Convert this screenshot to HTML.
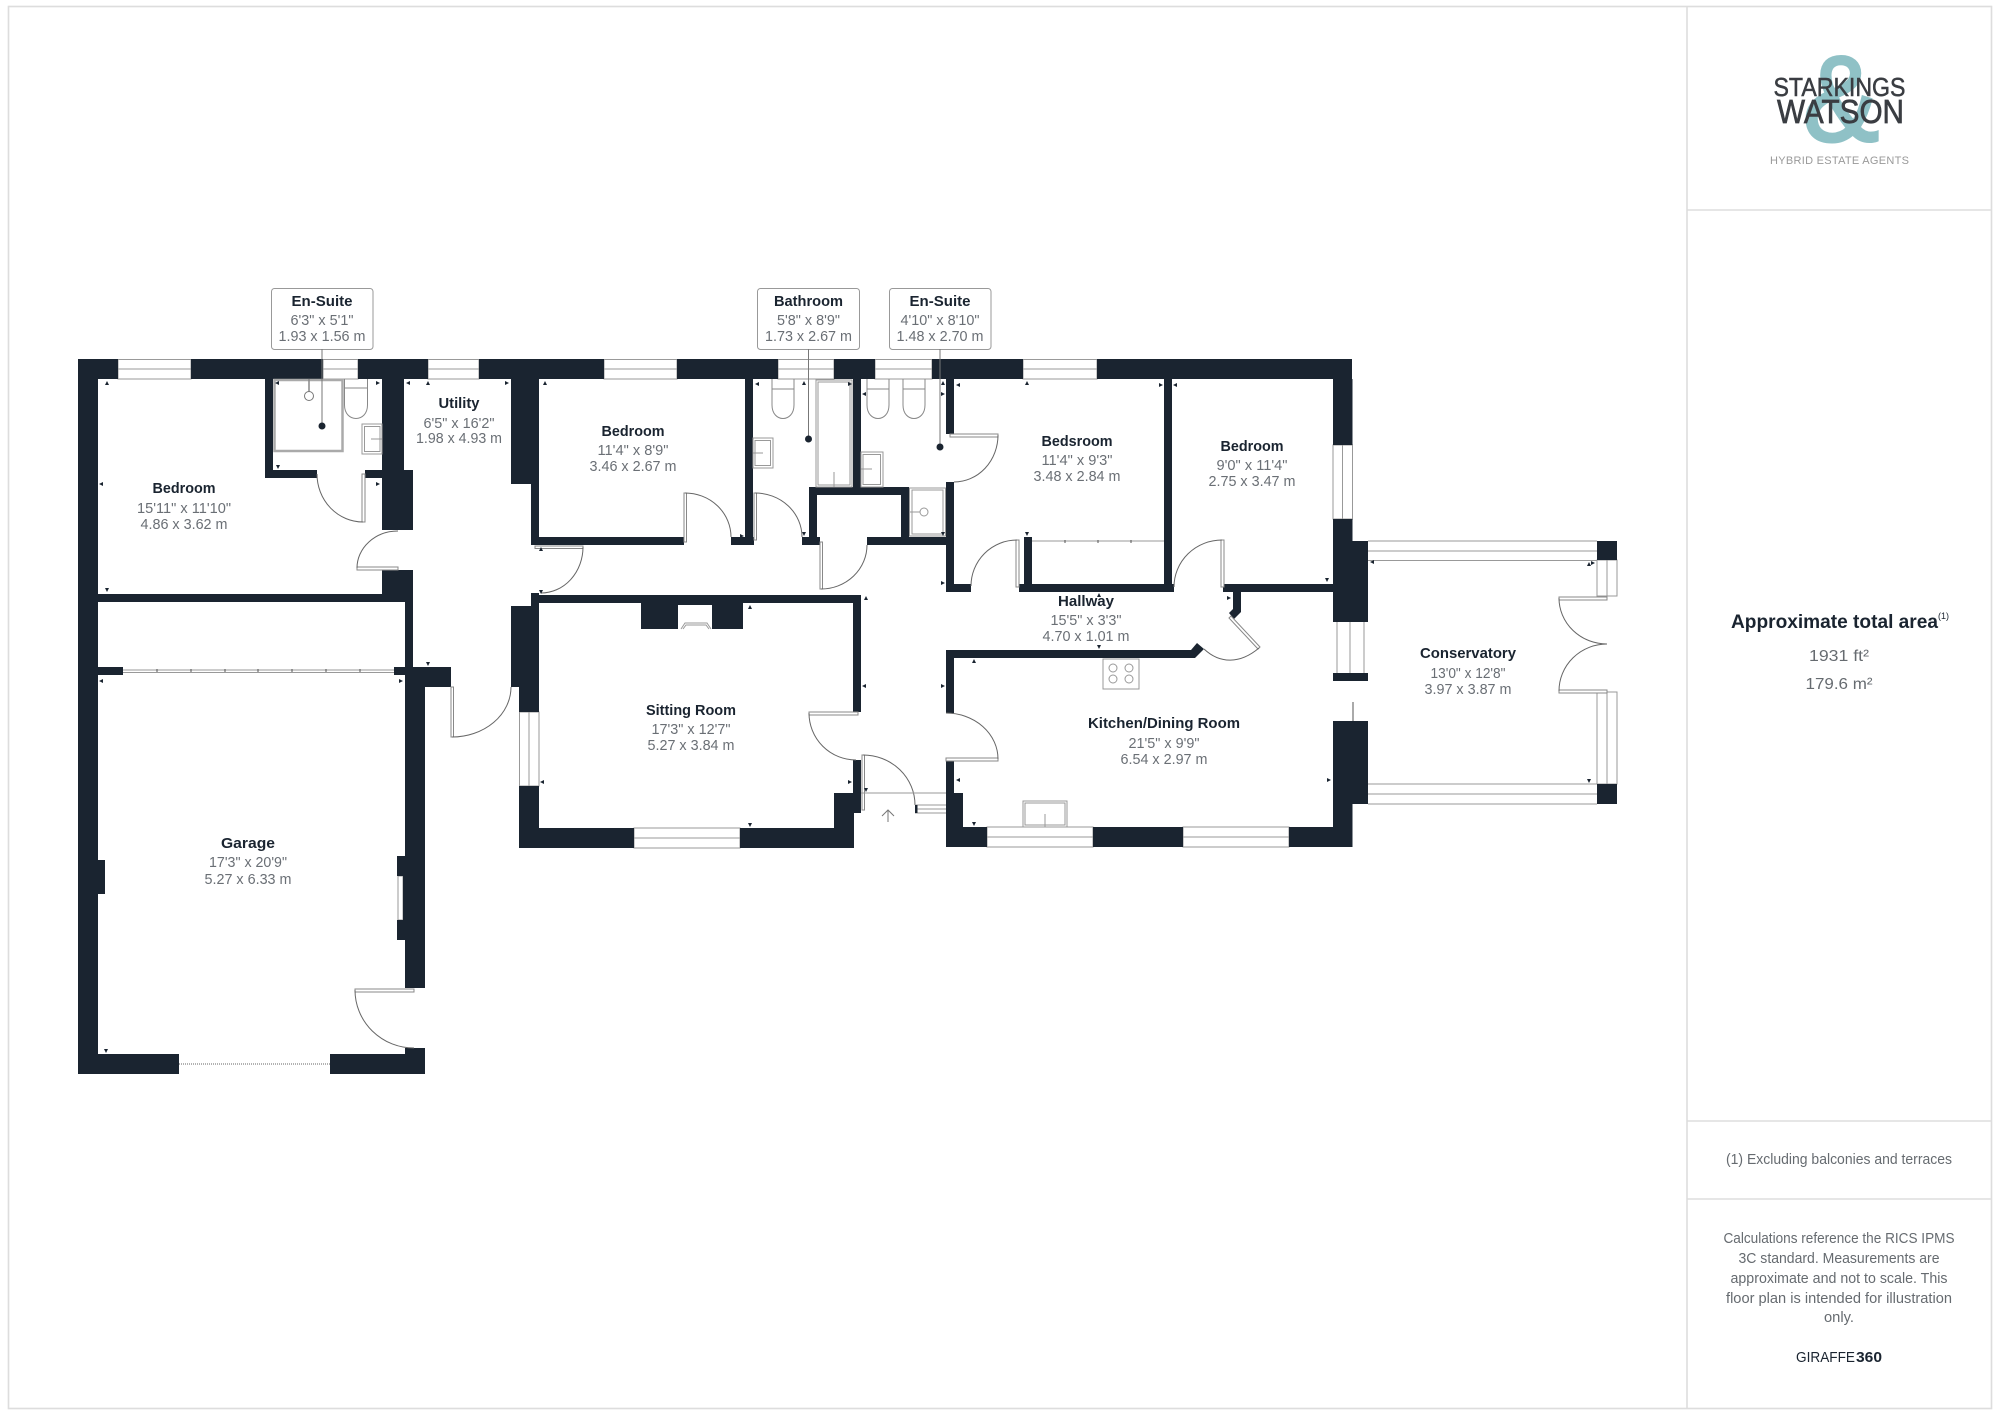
<!DOCTYPE html>
<html><head><meta charset="utf-8"><title>Floor plan</title>
<style>
html,body{margin:0;padding:0;background:#fff;width:2000px;height:1415px;overflow:hidden}
svg{display:block}
text{font-family:"Liberation Sans",sans-serif;text-anchor:middle}
.t{font-size:15px;font-weight:700;fill:#1a2430}
.d{font-size:14.5px;fill:#6a6f75}
.w{fill:#1a2430}
.win{fill:#fff;stroke:#999;stroke-width:1}
.ln{fill:none;stroke:#999;stroke-width:1}
.leaf{fill:#fff;stroke:#888;stroke-width:1}
.arc{fill:none;stroke:#666;stroke-width:1}
.fx{fill:#fff;stroke:#999;stroke-width:1.2}
.dbl{fill:none;stroke:#aaa;stroke-width:2.5}
.p{font-size:14.5px;fill:#666b70}
</style></head><body>
<svg width="2000" height="1415" viewBox="0 0 2000 1415" xmlns="http://www.w3.org/2000/svg">
<rect width="2000" height="1415" fill="#fff"/>
<!-- frame -->
<rect x="8.5" y="6.5" width="1983" height="1402" fill="none" stroke="#ddd" stroke-width="1.6"/>
<path d="M1687 6V1408M1687 210H1992M1687 1121H1992M1687 1199H1992" fill="none" stroke="#ddd" stroke-width="1.6"/>

<!-- windows -->
<g class="win">
<rect x="118" y="359.5" width="73" height="19.5"/><path d="M118 369H191"/>
<rect x="323" y="359.5" width="35" height="19.5"/><path d="M323 369H358"/>
<rect x="428" y="359.5" width="51" height="19.5"/><path d="M428 369H479"/>
<rect x="604" y="359.5" width="73" height="19.5"/><path d="M604 369H677"/>
<rect x="778" y="359.5" width="56" height="19.5"/><path d="M778 369H834"/>
<rect x="875" y="359.5" width="57" height="19.5"/><path d="M875 369H932"/>
<rect x="1023" y="359.5" width="74" height="19.5"/><path d="M1023 369H1097"/>
<rect x="1333" y="445" width="19.5" height="74"/><path d="M1342.5 445V519"/>
<path d="M1337 622V673M1350 622V673M1364 622V673"/>
<rect x="519.5" y="712" width="19.5" height="74"/><path d="M529 712V786"/>
<rect x="634" y="828" width="106" height="20"/><path d="M634 838H740"/>
<rect x="987" y="827" width="106" height="20"/><path d="M987 837H1093"/>
<rect x="1183" y="827" width="106" height="20"/><path d="M1183 837H1289"/>
<!-- conservatory -->
<path d="M1368 541H1597M1368 551H1597M1368 560.5H1597M1368 784H1597M1368 794H1597M1368 804H1597"/>
<rect x="1597" y="560" width="20" height="36"/><path d="M1607 560V596"/>
<rect x="1597" y="692" width="20" height="92"/><path d="M1607 692V784"/>
<rect x="398" y="876" width="5" height="44"/>
</g>
<path d="M1353 702V721" stroke="#aaa" stroke-width="2" fill="none"/>
<path d="M123 670H394M123 672.5H394M1032 541H1164" stroke="#999" stroke-width="1" fill="none"/>
<path d="M157 669v3M191 669v3M225 669v3M258 669v3M292 669v3M326 669v3M360 669v3M1065 540v3M1098 540v3M1131 540v3" stroke="#555" stroke-width="1"/>
<path d="M179 1064H330" stroke="#999" stroke-width="1.5" stroke-dasharray="1 1"/>

<!-- walls -->
<g class="w">
<rect x="78" y="359" width="40" height="20"/><rect x="191" y="359" width="132" height="20"/>
<rect x="358" y="359" width="70" height="20"/><rect x="479" y="359" width="125" height="20"/>
<rect x="677" y="359" width="101" height="20"/><rect x="834" y="359" width="41" height="20"/>
<rect x="932" y="359" width="91" height="20"/><rect x="1097" y="359" width="255" height="20"/>
<rect x="78" y="359" width="20" height="715"/><rect x="98" y="860" width="7" height="34"/>
<!-- en-suite -->
<rect x="265" y="379" width="8" height="99"/><rect x="265" y="470" width="52" height="8"/><rect x="365" y="470" width="17" height="8"/>
<rect x="382" y="379" width="22" height="91"/><rect x="382" y="470" width="31" height="60"/>
<rect x="382" y="570" width="31" height="32"/><rect x="98" y="594" width="315" height="8"/>
<rect x="405" y="602" width="8" height="70"/><rect x="405" y="667" width="46" height="20"/>
<rect x="405" y="667" width="20" height="321"/><rect x="397" y="856" width="8" height="20"/><rect x="397" y="920" width="8" height="20"/>
<rect x="403" y="876" width="2" height="44"/>
<rect x="405" y="1048" width="20" height="26"/><rect x="98" y="1054" width="81" height="20"/><rect x="330" y="1054" width="95" height="20"/>
<rect x="98" y="667" width="25" height="8"/><rect x="394" y="667" width="11" height="8"/>
<!-- bedroom 2 -->
<rect x="511" y="379" width="28" height="105"/><rect x="531" y="484" width="8" height="61"/>
<rect x="745" y="379" width="8" height="166"/><rect x="531" y="537" width="153" height="8"/><rect x="731" y="537" width="23" height="8"/>
<rect x="802" y="537" width="18" height="8"/><rect x="809" y="487" width="100" height="8"/><rect x="809" y="487" width="8" height="50"/>
<rect x="901" y="487" width="8" height="58"/><rect x="867" y="537" width="80" height="8"/><rect x="853" y="379" width="8" height="108"/>
<!-- bedsroom -->
<rect x="946" y="379" width="8" height="55"/><rect x="946" y="482" width="8" height="110"/><rect x="946" y="584" width="25" height="8"/>
<rect x="1019" y="584" width="155" height="8"/><rect x="1164" y="379" width="8" height="213"/><rect x="1024" y="537" width="8" height="55"/>
<rect x="1223" y="584" width="110" height="8"/><polygon points="1233,592 1241,592 1241,612 1234,619 1229,613 1233,609"/>
<!-- right wall -->
<rect x="1333" y="379" width="19.5" height="66"/><rect x="1333" y="519" width="19.5" height="30"/><rect x="1333" y="541" width="35" height="81"/>
<rect x="1333" y="673" width="35" height="8"/><rect x="1333" y="721" width="35" height="83"/><rect x="1333" y="804" width="19.5" height="43"/>
<rect x="1597" y="541" width="20" height="19"/><rect x="1597" y="784" width="20" height="20"/>
<!-- kitchen -->
<polygon points="946,650 1191,650 1197,643 1204,649 1195,658 954,658 954,713 946,713"/>
<rect x="946" y="761" width="8" height="86"/><rect x="946" y="793" width="17" height="54"/><rect x="946" y="827" width="41" height="20"/>
<rect x="1093" y="827" width="90" height="20"/><rect x="1289" y="827" width="63.5" height="20"/>
<!-- sitting room -->
<rect x="531" y="595" width="330" height="8"/><rect x="531" y="593" width="8" height="13"/>
<rect x="511" y="606" width="28" height="81"/><rect x="519" y="606" width="20" height="106"/>
<rect x="519" y="786" width="20" height="62"/><rect x="519" y="828" width="115" height="20"/><rect x="740" y="828" width="114" height="20"/>
<rect x="834" y="793" width="20" height="55"/><rect x="853" y="603" width="8" height="109"/><rect x="853" y="760" width="8" height="53"/><rect x="834" y="793" width="27" height="20"/>
<rect x="641" y="603" width="37" height="26"/><rect x="712" y="603" width="31" height="26"/><rect x="678" y="603" width="34" height="2"/>
</g>

<!-- doors -->
<g class="leaf">
<rect x="362" y="474" width="3" height="48"/><rect x="357" y="567" width="41" height="3"/>
<rect x="355" y="989" width="59" height="3"/><rect x="451" y="687" width="2.5" height="50"/>
<rect x="535" y="546" width="48" height="2.5"/><rect x="684" y="493" width="2.5" height="49"/><rect x="754" y="493" width="2.5" height="47"/>
<rect x="820" y="542" width="2.5" height="47"/><rect x="950" y="434" width="48" height="3"/>
<rect x="1016" y="540" width="3" height="47"/><rect x="1221" y="540" width="3" height="47"/>
<rect x="809" y="712" width="49" height="3"/><rect x="862" y="755" width="2.5" height="55"/>
<rect x="946" y="758" width="52" height="3"/>
<polygon points="1229,618 1231,616 1260,647 1258,649"/>
<rect x="1559" y="597" width="48" height="3"/><rect x="1559" y="690" width="48" height="3"/>
</g>
<g class="arc">
<path d="M317 474A46 48 0 0 0 363 522"/>
<path d="M357 568A41 37 0 0 1 398 531"/>
<path d="M355 990A59 58 0 0 0 414 1048"/>
<path d="M452 737A59 50 0 0 0 511 687"/>
<path d="M583 547A42 46 0 0 1 541 593"/>
<path d="M685 493A46 44 0 0 1 731 537"/>
<path d="M755 493A47 44 0 0 1 802 537"/>
<path d="M821 589A46 44 0 0 0 867 545"/>
<path d="M998 435A44 47 0 0 1 954 482"/>
<path d="M1017 540A46 46 0 0 0 971 586"/>
<path d="M1222 540A48 47 0 0 0 1174 587"/>
<path d="M809 713A47 47 0 0 0 856 760"/>
<path d="M863 755A52 50 0 0 1 915 805"/>
<path d="M946 713A52 46 0 0 1 998 759"/>
<path d="M1259 648C1240 664 1220 664 1204 649"/>
<path d="M1559 598A48 46 0 0 0 1607 644"/>
<path d="M1559 691A48 47 0 0 1 1607 644"/>
</g>

<!-- entrance -->
<path d="M861 793H946M915 805H946M915 809H946M915 813H946" class="ln"/>
<rect x="915" y="805" width="2.5" height="8" fill="#1a2430"/>
<path d="M888 822V810M882 816L888 810L894 816" fill="none" stroke="#777" stroke-width="1"/>

<!-- fixtures -->
<rect x="274.5" y="380" width="68" height="71" class="dbl"/>
<path d="M309 379V392" stroke="#888" stroke-width="1.5"/><circle cx="309" cy="396" r="4.5" fill="#fff" stroke="#777"/>
<g class="ln" style="stroke:#888">
<path d="M344.5 379V405C344.5 423 367.5 423 367.5 405V379M344.5 388H367.5"/>
<path d="M772 379V405C772 423 794 423 794 405V379M772 389H794"/>
<path d="M867 379V405C867 423 889 423 889 405V379M867 389H889"/>
<path d="M903 379V405C903 423 925 423 925 405V379M903 389H925"/>
</g>
<g fill="none" stroke="#999" stroke-width="1">
<rect x="362" y="424" width="20" height="30"/><rect x="364.5" y="426.5" width="15.5" height="25"/><path d="M371 439H382"/>
<rect x="753" y="438" width="20" height="30"/><rect x="755" y="440.5" width="15.5" height="25"/><path d="M753 453H763"/>
<rect x="861" y="452" width="22" height="35"/><rect x="863" y="454.5" width="17.5" height="30"/><path d="M861 469H872"/>
<rect x="816" y="380" width="36" height="107"/><rect x="818" y="382" width="32" height="103"/><path d="M834 472V487"/>
<rect x="909.5" y="488" width="36" height="48"/><rect x="912" y="490" width="31" height="44"/><path d="M909 512H920"/><circle cx="924" cy="512" r="4"/>
<rect x="1023" y="801" width="44" height="26"/><rect x="1025" y="803" width="40" height="22"/><path d="M1045 814V827"/>
<rect x="1103" y="659" width="36" height="30"/>
<circle cx="1113" cy="668" r="4"/><circle cx="1129" cy="668" r="4"/><circle cx="1113" cy="679" r="4"/><circle cx="1129" cy="679" r="4"/>
<path d="M681 629L685 623H707L711 629M683 629L686 625H706L709 629"/>
</g>

<!-- dimension marks -->
<path fill="#1a2430" d="M107 381l-2 4h4zM428 381l-2 4h4zM545 381l-2 4h4zM541 547l-2 4h4zM804 381l-2 4h4zM943 381l-2 4h4zM750 605l-2 4h4zM866 596l-2 4h4zM974 659l-2 4h4zM1027 381l-2 4h4zM1099 593l-2 4h4zM1589 562l-2 4h4z
M278 469l-2-4h4zM107 592l-2-4h4zM428 666l-2-4h4zM106 1053l-2-4h4zM804 536l-2-4h4zM943 536l-2-4h4zM541 594l-2-4h4zM1027 536l-2-4h4zM1327 582l-2-4h4zM1099 649l-2-4h4zM750 827l-2-4h4zM866 792l-2-4h4zM974 826l-2-4h4zM1589 783l-2-4h4z
M275 383l4-2v4zM99 484l4-2v4zM406 383l4-2v4zM755 384l4-2v4zM956 385l4-2v4zM862 394l4-2v4zM1173 385l4-2v4zM1370 562l4-2v4zM540 782l4-2v4zM862 686l4-2v4zM956 780l4-2v4zM99 681l4-2v4z
M380 383l-4-2v4zM380 484l-4-2v4zM509 383l-4-2v4zM744 536l-4-2v4zM852 384l-4-2v4zM945 394l-4-2v4zM945 583l-4-2v4zM1163 385l-4-2v4zM1231 598l-4-2v4zM852 782l-4-2v4zM945 686l-4-2v4zM1331 780l-4-2v4zM1595 563l-4-2v4zM403 681l-4-2v4z"/>

<!-- callouts -->
<g fill="#fff" stroke="#999" stroke-width="1">
<rect x="271.5" y="288.5" width="101.5" height="61" rx="3"/>
<rect x="757.5" y="288.5" width="102" height="61" rx="3"/>
<rect x="889.5" y="288.5" width="101.5" height="61" rx="3"/>
</g>
<path d="M322 349V426M808.5 349V439M940 349V447" stroke="#777" stroke-width="1" fill="none"/>
<circle cx="322" cy="426" r="3.5" fill="#1a2430"/><circle cx="808.5" cy="439" r="3.5" fill="#1a2430"/><circle cx="940" cy="447" r="3.5" fill="#1a2430"/>

<!-- labels -->
<text class="t" x="322" y="306" textLength="61" lengthAdjust="spacingAndGlyphs">En-Suite</text>
<text class="d" x="322" y="325" textLength="63" lengthAdjust="spacingAndGlyphs">6'3" x 5'1"</text>
<text class="d" x="322" y="341" textLength="87" lengthAdjust="spacingAndGlyphs">1.93 x 1.56 m</text>
<text class="t" x="808.5" y="306" textLength="69" lengthAdjust="spacingAndGlyphs">Bathroom</text>
<text class="d" x="808.5" y="325" textLength="63" lengthAdjust="spacingAndGlyphs">5'8" x 8'9"</text>
<text class="d" x="808.5" y="341" textLength="87" lengthAdjust="spacingAndGlyphs">1.73 x 2.67 m</text>
<text class="t" x="940" y="306" textLength="61" lengthAdjust="spacingAndGlyphs">En-Suite</text>
<text class="d" x="940" y="325" textLength="79" lengthAdjust="spacingAndGlyphs">4'10" x 8'10"</text>
<text class="d" x="940" y="341" textLength="87" lengthAdjust="spacingAndGlyphs">1.48 x 2.70 m</text>
<text class="t" x="459" y="408" textLength="41" lengthAdjust="spacingAndGlyphs">Utility</text>
<text class="d" x="459" y="428" textLength="71" lengthAdjust="spacingAndGlyphs">6'5" x 16'2"</text>
<text class="d" x="459" y="443" textLength="86" lengthAdjust="spacingAndGlyphs">1.98 x 4.93 m</text>
<text class="t" x="184" y="493" textLength="63" lengthAdjust="spacingAndGlyphs">Bedroom</text>
<text class="d" x="184" y="513" textLength="94" lengthAdjust="spacingAndGlyphs">15'11" x 11'10"</text>
<text class="d" x="184" y="529" textLength="87" lengthAdjust="spacingAndGlyphs">4.86 x 3.62 m</text>
<text class="t" x="633" y="436" textLength="63" lengthAdjust="spacingAndGlyphs">Bedroom</text>
<text class="d" x="633" y="455" textLength="71" lengthAdjust="spacingAndGlyphs">11'4" x 8'9"</text>
<text class="d" x="633" y="471" textLength="87" lengthAdjust="spacingAndGlyphs">3.46 x 2.67 m</text>
<text class="t" x="1077" y="446" textLength="71" lengthAdjust="spacingAndGlyphs">Bedsroom</text>
<text class="d" x="1077" y="465" textLength="71" lengthAdjust="spacingAndGlyphs">11'4" x 9'3"</text>
<text class="d" x="1077" y="481" textLength="87" lengthAdjust="spacingAndGlyphs">3.48 x 2.84 m</text>
<text class="t" x="1252" y="451" textLength="63" lengthAdjust="spacingAndGlyphs">Bedroom</text>
<text class="d" x="1252" y="470" textLength="71" lengthAdjust="spacingAndGlyphs">9'0" x 11'4"</text>
<text class="d" x="1252" y="486" textLength="87" lengthAdjust="spacingAndGlyphs">2.75 x 3.47 m</text>
<text class="t" x="1086" y="606" textLength="56" lengthAdjust="spacingAndGlyphs">Hallway</text>
<text class="d" x="1086" y="625" textLength="71" lengthAdjust="spacingAndGlyphs">15'5" x 3'3"</text>
<text class="d" x="1086" y="641" textLength="87" lengthAdjust="spacingAndGlyphs">4.70 x 1.01 m</text>
<text class="t" x="691" y="715" textLength="90" lengthAdjust="spacingAndGlyphs">Sitting Room</text>
<text class="d" x="691" y="734" textLength="79" lengthAdjust="spacingAndGlyphs">17'3" x 12'7"</text>
<text class="d" x="691" y="750" textLength="87" lengthAdjust="spacingAndGlyphs">5.27 x 3.84 m</text>
<text class="t" x="1164" y="728" textLength="152" lengthAdjust="spacingAndGlyphs">Kitchen/Dining Room</text>
<text class="d" x="1164" y="748" textLength="71" lengthAdjust="spacingAndGlyphs">21'5" x 9'9"</text>
<text class="d" x="1164" y="764" textLength="87" lengthAdjust="spacingAndGlyphs">6.54 x 2.97 m</text>
<text class="t" x="248" y="848" textLength="54" lengthAdjust="spacingAndGlyphs">Garage</text>
<text class="d" x="248" y="867" textLength="78" lengthAdjust="spacingAndGlyphs">17'3" x 20'9"</text>
<text class="d" x="248" y="884" textLength="87" lengthAdjust="spacingAndGlyphs">5.27 x 6.33 m</text>
<text class="t" x="1468" y="658" textLength="96" lengthAdjust="spacingAndGlyphs">Conservatory</text>
<text class="d" x="1468" y="678" textLength="75" lengthAdjust="spacingAndGlyphs">13'0" x 12'8"</text>
<text class="d" x="1468" y="694" textLength="87" lengthAdjust="spacingAndGlyphs">3.97 x 3.87 m</text>

<!-- logo -->
<text x="1841" y="141" font-size="122" fill="#8fc1c6" stroke="#8fc1c6" stroke-width="3" textLength="76" lengthAdjust="spacingAndGlyphs">&amp;</text>
<text x="1839.5" y="96" font-size="26" fill="#3a3d42" stroke="#3a3d42" stroke-width="0.5" textLength="132" lengthAdjust="spacingAndGlyphs">STARKINGS</text>
<text x="1840.5" y="123" font-size="33" fill="#3a3d42" stroke="#3a3d42" stroke-width="0.7" textLength="127" lengthAdjust="spacingAndGlyphs">WATSON</text>
<text x="1839.5" y="164" font-size="11" fill="#999" textLength="139" lengthAdjust="spacing">HYBRID ESTATE AGENTS</text>

<!-- side panel -->
<text x="1834.5" y="628" font-size="19" font-weight="700" fill="#1a2430" textLength="207" lengthAdjust="spacingAndGlyphs">Approximate total area</text>
<text x="1943.5" y="619" font-size="9" fill="#1a2430">(1)</text>
<text x="1839" y="661" font-size="16" fill="#666b70" textLength="60" lengthAdjust="spacingAndGlyphs">1931 ft²</text>
<text x="1839" y="689" font-size="16" fill="#666b70" textLength="67" lengthAdjust="spacingAndGlyphs">179.6 m²</text>
<text class="p" x="1839" y="1164" textLength="226" lengthAdjust="spacingAndGlyphs">(1) Excluding balconies and terraces</text>
<text class="p" x="1839" y="1243" textLength="231" lengthAdjust="spacingAndGlyphs">Calculations reference the RICS IPMS</text>
<text class="p" x="1839" y="1263" textLength="201" lengthAdjust="spacingAndGlyphs">3C standard. Measurements are</text>
<text class="p" x="1839" y="1283" textLength="217" lengthAdjust="spacingAndGlyphs">approximate and not to scale. This</text>
<text class="p" x="1839" y="1303" textLength="226" lengthAdjust="spacingAndGlyphs">floor plan is intended for illustration</text>
<text class="p" x="1839" y="1322" textLength="30" lengthAdjust="spacingAndGlyphs">only.</text>
<text x="1825.5" y="1362" font-size="15" fill="#1a2430" textLength="59" lengthAdjust="spacingAndGlyphs">GIRAFFE</text>
<text x="1869" y="1362" font-size="15" font-weight="700" fill="#1a2430" textLength="26" lengthAdjust="spacingAndGlyphs">360</text>
</svg>
</body></html>
